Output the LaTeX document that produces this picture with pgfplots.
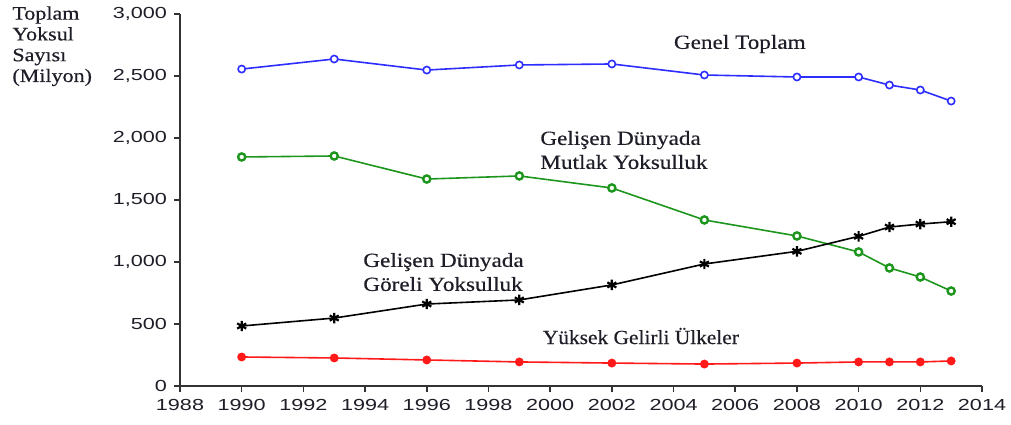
\documentclass[border=0pt]{standalone}
\usepackage{fontspec}
\setmainfont{Liberation Serif}[FakeStretch=1.16, FakeBold=0.4]
\newfontfamily\narrowserif{Liberation Serif}[FakeStretch=1.07, FakeBold=0.4]
\newfontfamily\tickfont{Liberation Sans}[FakeStretch=1.35]
\usepackage{pgfplots}
\pgfplotsset{compat=1.18}

\definecolor{cblue}{RGB}{45,45,255}
\definecolor{cgreen}{RGB}{30,150,30}
\definecolor{cred}{RGB}{255,25,25}
\definecolor{ctext}{RGB}{30,30,40}

\begin{document}
\begin{tikzpicture}
\begin{axis}[
    scale only axis,
    width=401pt, height=186pt,
    xmin=1988, xmax=2014,
    ymin=0, ymax=3000,
    axis x line*=bottom, axis y line*=left,
    axis line style={line width=1pt, black!80},
    tick style={line width=0.8pt, black!80},
    tick align=outside,
    major tick length=3pt,
    xtick={1988,1990,...,2014},
    ytick={0,500,...,3000},
    ticklabel style={font=\tickfont\fontsize{8}{9}\selectfont, text=ctext},
    /pgf/number format/assume math mode=true,
    x tick label style={/pgf/number format/1000 sep={}},
    y tick label style={/pgf/number format/1000 sep={,}},
    clip=false,
    every axis plot/.append style={line width=0.8pt},
]
% Genel Toplam
\addplot[cblue, mark=*, mark size=1.8pt, mark options={fill=white, line width=0.8pt}]
  coordinates {(1990,2556) (1993,2637) (1996,2548) (1999,2589) (2002,2597)
               (2005,2508) (2008,2492) (2010,2492) (2011,2427) (2012,2387) (2013,2298)};
% Mutlak Yoksulluk
\addplot[cgreen, mark=*, mark size=1.8pt, mark options={fill=white, line width=1.2pt}]
  coordinates {(1990,1847) (1993,1855) (1996,1669) (1999,1694) (2002,1597)
               (2005,1339) (2008,1210) (2010,1081) (2011,952) (2012,879) (2013,766)};
% Goreli Yoksulluk
\addplot[black, mark=asterisk, mark size=2.6pt, mark options={line width=1.1pt}]
  coordinates {(1990,484) (1993,548) (1996,661) (1999,694) (2002,815)
               (2005,984) (2008,1086) (2010,1207) (2011,1282) (2012,1306) (2013,1325)};
% Yuksek Gelirli
\addplot[cred, mark=*, mark size=1.8pt]
  coordinates {(1990,234) (1993,226) (1996,210) (1999,194) (2002,185)
               (2005,177) (2008,185) (2010,194) (2011,194) (2012,194) (2013,202)};

\begin{scope}[every node/.style={text=ctext, inner sep=0pt}]
\node[anchor=west] at (axis cs:2004,2758) {Genel Toplam};
\node[anchor=west, align=left] at (axis cs:1999.67,1903) {Gelişen Dünyada\\Mutlak Yoksulluk};
\node[anchor=west, align=left] at (axis cs:1993.93,919) {Gelişen Dünyada\\Göreli Yoksulluk};
\node[anchor=west] at (axis cs:1999.75,403) {\narrowserif Yüksek Gelirli Ülkeler};
\node[anchor=north west, align=left, font=\fontsize{9.5}{10.4}\selectfont]
  at ([xshift=-84pt, yshift=4pt]rel axis cs:0,1) {Toplam\\Yoksul\\Sayısı\\(Milyon)};
\end{scope}

\coordinate (sw) at (rel axis cs:0,0);
\coordinate (ne) at (rel axis cs:1,1);
\end{axis}
\pgfresetboundingbox
\path[use as bounding box] ([xshift=-90pt, yshift=-19pt]sw) rectangle ([xshift=14.5pt, yshift=7pt]ne);
\end{tikzpicture}
\end{document}
